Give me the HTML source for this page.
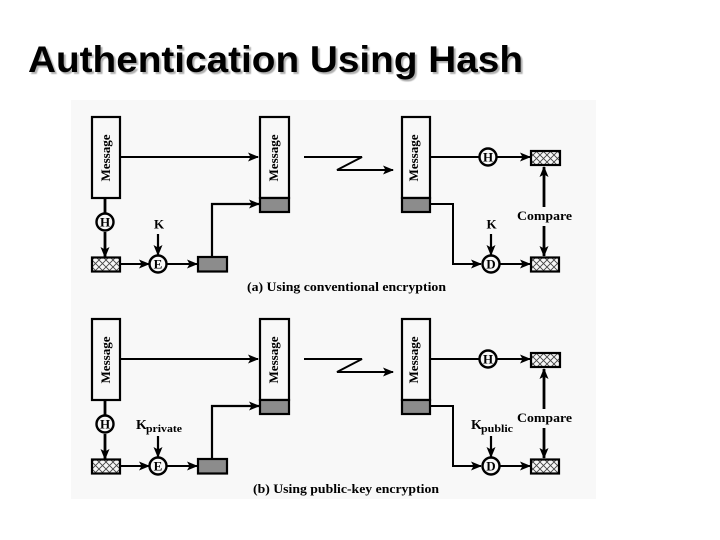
<!DOCTYPE html>
<html>
<head>
<meta charset="utf-8">
<style>
html,body{margin:0;padding:0;background:#fff;width:720px;height:540px;overflow:hidden}
svg{display:block}
.t{font-family:"Liberation Serif",serif;font-weight:bold;fill:#000}
</style>
</head>
<body>
<svg xmlns="http://www.w3.org/2000/svg" width="720" height="540" viewBox="0 0 720 540">
<defs>
<filter id="b" filterUnits="userSpaceOnUse" x="60" y="95" width="550" height="410"><feGaussianBlur stdDeviation="0.3"/></filter>
<filter id="s" filterUnits="userSpaceOnUse" x="0" y="20" width="600" height="80"><feGaussianBlur stdDeviation="0.5"/></filter>
<pattern id="hatch" width="7" height="7" patternUnits="userSpaceOnUse" patternTransform="translate(1 1)">
<rect width="7" height="7" fill="#f6f6f6"/>
<path d="M0 0L7 7M7 0L0 7" stroke="#444" stroke-width="0.9"/>
</pattern>
<marker id="a" markerUnits="userSpaceOnUse" markerWidth="12" markerHeight="10" refX="10" refY="5" orient="auto">
<path d="M0 0.500L11 5L0 9.500L2.500 5Z" fill="#000"/>
</marker>
<g id="d">
<g fill="none" stroke="#000" stroke-width="1.9" marker-end="url(#a)">
<path d="M120 157H258"/>
<path d="M212 257V204H259" stroke-width="2.2"/>
<path d="M105 232V257" stroke-width="2.8"/>
<path d="M121 264H149"/>
<path d="M167 264H197"/>
<path d="M158 234V255" stroke-width="2.2"/>
<path d="M491 234V255" stroke-width="2.2"/>
<path d="M304 157H362L337 170H393"/>
<path d="M430 157H530"/>
<path d="M430 204H453V264H481" stroke-width="2"/>
<path d="M500 264H530"/>
<path d="M544 207V167" stroke-width="2.8"/>
<path d="M544 226V256" stroke-width="2.8"/>
</g>
<path d="M105 198V213" stroke="#000" stroke-width="2.8"/>
<g stroke="#000" stroke-width="2.2" fill="#f8f8f8">
<rect x="92" y="117" width="28" height="81"/>
<rect x="260" y="117" width="29" height="81"/>
<rect x="402" y="117" width="28" height="81"/>
</g>
<g stroke="#000" stroke-width="2.2" fill="#8c8c8c">
<rect x="260" y="198" width="29" height="14"/>
<rect x="402" y="198" width="28" height="14"/>
<rect x="198" y="257" width="29" height="14.500"/>
</g>
<g stroke="#000" stroke-width="2.2" fill="url(#hatch)">
<rect x="92" y="257.500" width="28" height="14"/>
<rect x="531" y="151" width="29" height="14"/>
<rect x="531" y="257.500" width="28" height="14"/>
</g>
<g stroke="#000" stroke-width="2.4" fill="#f8f8f8">
<circle cx="105" cy="222" r="8.500"/>
<circle cx="158" cy="264" r="8.500"/>
<circle cx="488" cy="157" r="8.500"/>
<circle cx="491" cy="264" r="8.500"/>
</g>
<g class="t" font-size="13" text-anchor="middle">
<text x="105" y="226.500">H</text>
<text x="158" y="268.500">E</text>
<text x="488" y="161.500">H</text>
<text x="491" y="268.500">D</text>
<text x="544.500" y="220" font-size="12.500" textLength="55" lengthAdjust="spacingAndGlyphs">Compare</text>
</g>
<g class="t" font-size="13" text-anchor="middle">
<text transform="translate(110 158) rotate(-90)" textLength="47" lengthAdjust="spacingAndGlyphs">Message</text>
<text transform="translate(278 158) rotate(-90)" textLength="47" lengthAdjust="spacingAndGlyphs">Message</text>
<text transform="translate(418 158) rotate(-90)" textLength="47" lengthAdjust="spacingAndGlyphs">Message</text>
</g>
</g>
</defs>

<rect x="71" y="100" width="525" height="399" fill="#f8f8f8"/>

<g filter="url(#b)">
<use href="#d"/>
<use href="#d" transform="translate(0 202)"/>
<g class="t" font-size="12.500">
<text x="154" y="228.500" font-size="13">K</text>
<text x="486.500" y="228.500" font-size="13">K</text>
<text x="247" y="291" textLength="199" lengthAdjust="spacingAndGlyphs">(a) Using conventional encryption</text>
<text x="253" y="493" textLength="186" lengthAdjust="spacingAndGlyphs">(b) Using public-key encryption</text>
<text x="136" y="429" font-size="14">K</text>
<text x="146" y="432" font-size="11" textLength="36" lengthAdjust="spacingAndGlyphs">private</text>
<text x="471" y="429" font-size="14">K</text>
<text x="481" y="432" font-size="11" textLength="32" lengthAdjust="spacingAndGlyphs">public</text>
</g>
</g>

<g font-family="Liberation Sans, sans-serif" font-weight="bold" font-size="37">
<text x="30" y="74" fill="#b0b0b0" filter="url(#s)" textLength="495" lengthAdjust="spacingAndGlyphs">Authentication Using Hash</text>
<text x="28" y="72" fill="#000" textLength="495" lengthAdjust="spacingAndGlyphs">Authentication Using Hash</text>
</g>
</svg>
</body>
</html>
